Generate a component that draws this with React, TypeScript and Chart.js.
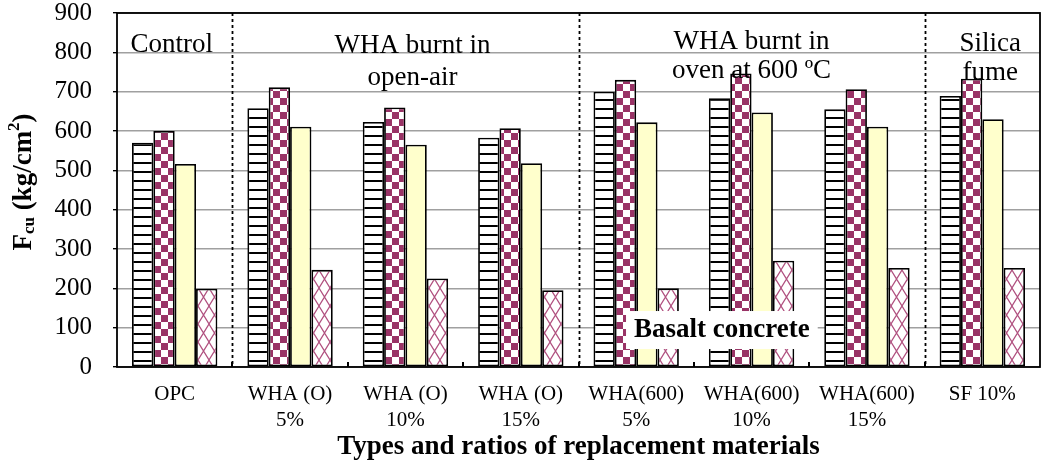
import React, { useEffect, useRef } from "react";
import { Chart, registerables } from "chart.js";

Chart.register(...registerables);

const categories: string[][] = [
  ["OPC"],
  ["WHA (O)", "5%"],
  ["WHA (O)", "10%"],
  ["WHA (O)", "15%"],
  ["WHA(600)", "5%"],
  ["WHA(600)", "10%"],
  ["WHA(600)", "15%"],
  ["SF 10%"],
];

const series1 = [570, 658, 623, 583, 700, 683, 655, 689];
const series2 = [600, 711, 660, 607, 730, 746, 706, 733];
const series3 = [516, 611, 565, 518, 622, 647, 611, 630];
const series4 = [199, 247, 225, 195, 200, 270, 252, 252];

const yTicks = [0, 100, 200, 300, 400, 500, 600, 700, 800, 900];

const groupLabels = [
  { lines: ["Control"], from: 0, to: 0 },
  { lines: ["WHA burnt in", "open-air"], from: 1, to: 3 },
  { lines: ["WHA burnt in", "oven at 600 ºC"], from: 4, to: 6 },
  { lines: ["Silica", "fume"], from: 7, to: 7 },
];
const separators = [0.5, 3.5, 6.5];

const SERIF = "'Liberation Serif', 'Times New Roman', serif";

function makePattern(kind: string): CanvasPattern | string {
  const c = document.createElement("canvas");
  const ctx = c.getContext("2d");
  if (!ctx) return "#fff";
  if (kind === "stripes") {
    c.width = 9; c.height = 9;
    ctx.fillStyle = "#fff"; ctx.fillRect(0, 0, 9, 9);
    ctx.fillStyle = "#000"; ctx.fillRect(0, 0, 9, 2);
  } else if (kind === "checker") {
    c.width = 14; c.height = 14;
    ctx.fillStyle = "#fff"; ctx.fillRect(0, 0, 14, 14);
    ctx.fillStyle = "#993366";
    ctx.fillRect(0, 0, 7, 7);
    ctx.fillRect(7, 7, 7, 7);
  } else {
    c.width = 11; c.height = 18;
    ctx.fillStyle = "#fff"; ctx.fillRect(0, 0, 11, 18);
    ctx.strokeStyle = "#b0507f"; ctx.lineWidth = 1.2;
    ctx.beginPath();
    ctx.moveTo(0, 0); ctx.lineTo(11, 18);
    ctx.moveTo(11, 0); ctx.lineTo(0, 18);
    ctx.stroke();
  }
  return ctx.createPattern(c, "repeat") || "#fff";
}

const overlayPlugin = {
  id: "overlay",
  afterDatasetsDraw(chart: any) {
    const { ctx, chartArea, scales } = chart;
    const x = scales.x;
    const y = scales.y;
    const { left, right, top, bottom } = chartArea;
    const half = (x.getPixelForValue(1) - x.getPixelForValue(0)) / 2;
    ctx.save();
    // dotted separators
    ctx.strokeStyle = "#000";
    ctx.lineWidth = 1.8;
    ctx.setLineDash([3, 3]);
    separators.forEach((s) => {
      const px = Math.round(x.getPixelForValue(Math.floor(s)) + half) + 0.5;
      ctx.beginPath();
      ctx.moveTo(px, top);
      ctx.lineTo(px, bottom);
      ctx.stroke();
    });
    ctx.setLineDash([]);
    // inside tick marks at category boundaries
    ctx.lineWidth = 2;
    for (let i = 0; i < categories.length - 1; i++) {
      const px = Math.round(x.getPixelForValue(i) + half);
      ctx.beginPath();
      ctx.moveTo(px, bottom);
      ctx.lineTo(px, bottom - 5);
      ctx.stroke();
    }
    // frame
    ctx.lineWidth = 1.8;
    ctx.strokeRect(left, top, right - left, bottom - top);
    // group labels
    ctx.fillStyle = "#000";
    ctx.font = `27px ${SERIF}`;
    ctx.textAlign = "center";
    ctx.textBaseline = "middle";
    const lineY = [
      [45],
      [46, 78],
      [42, 71],
      [44, 73],
    ];
    groupLabels.forEach((g, gi) => {
      const cx = (x.getPixelForValue(g.from) + x.getPixelForValue(g.to)) / 2 + (gi === 1 ? 7 : gi === 3 ? 8 : gi === 0 ? -3 : 0);
      g.lines.forEach((ln, li) => {
        ctx.fillText(ln, cx, lineY[gi][li]);
      });
    });
    // Basalt concrete box
    const bx = (x.getPixelForValue(4) + x.getPixelForValue(5)) / 2 + 28;
    const by = y.getPixelForValue(94);
    ctx.font = `bold 27px ${SERIF}`;
    const tw = ctx.measureText("Basalt concrete").width;
    ctx.fillStyle = "#fff";
    ctx.fillRect(bx - tw / 2 - 8, by - 19, tw + 16, 38);
    ctx.fillStyle = "#000";
    ctx.fillText("Basalt concrete", bx, by);
    // x title
    ctx.font = `bold 27px ${SERIF}`;
    ctx.fillText("Types and ratios of replacement materials", (left + right) / 2, 447);
    // y title
    ctx.translate(24, 182);
    ctx.rotate(-Math.PI / 2);
    const big = `bold 27px ${SERIF}`;
    const small = `bold 17px ${SERIF}`;
    const segs = [
      { t: "F", f: big, dy: 0 },
      { t: "cu", f: small, dy: 6 },
      { t: " (kg/cm", f: big, dy: 0 },
      { t: "2", f: small, dy: -9 },
      { t: ")", f: big, dy: 0 },
    ];
    let total = 0;
    segs.forEach((s) => { ctx.font = s.f; total += ctx.measureText(s.t).width; });
    let cur = -total / 2;
    ctx.textAlign = "left";
    segs.forEach((s) => {
      ctx.font = s.f;
      ctx.fillText(s.t, cur, s.dy);
      cur += ctx.measureText(s.t).width;
    });
    ctx.restore();
  },
};

export default function App() {
  const ref = useRef<HTMLCanvasElement | null>(null);
  useEffect(() => {
    document.body.style.margin = "0";
    if (!ref.current) return;
    const border = { borderColor: "#000", borderWidth: 1.8, borderSkipped: false as const };
    const chart = new Chart(ref.current, {
      type: "bar",
      data: {
        labels: categories,
        datasets: [
          { label: "Series 1", data: series1, backgroundColor: makePattern("stripes") as any, ...border },
          { label: "Series 2", data: series2, backgroundColor: makePattern("checker") as any, ...border },
          { label: "Series 3", data: series3, backgroundColor: "#FFFFCC", ...border },
          { label: "Series 4", data: series4, backgroundColor: makePattern("cross") as any, ...border },
        ],
      },
      options: {
        responsive: false,
        animation: false,
        layout: { padding: { left: 0, top: 13, right: 17, bottom: 0 } },
        datasets: { bar: { categoryPercentage: 0.74, barPercentage: 1.0 } },
        plugins: { legend: { display: false }, tooltip: { enabled: false } },
        scales: {
          x: {
            grid: { display: false, drawTicks: false },
            border: { display: false },
            ticks: {
              color: "#000",
              font: { family: SERIF, size: 21, lineHeight: 1.25 },
              padding: 14,
              maxRotation: 0,
              autoSkip: false,
            },
            afterFit: (s: any) => { s.height = 107; s.paddingLeft = 0; s.paddingRight = 0; },
          },
          y: {
            min: 0,
            max: 900,
            afterBuildTicks: (s: any) => { s.ticks = yTicks.map((v) => ({ value: v })); },
            grid: { color: "#a0a0a0", lineWidth: 1.4, tickLength: 4, tickColor: "#000" },
            border: { display: false },
            ticks: {
              color: "#000",
              font: { family: SERIF, size: 25 },
              padding: 21,
            },
            afterFit: (s: any) => { s.width = 117; s.paddingTop = 0; s.paddingBottom = 0; },
          },
        },
      },
      plugins: [overlayPlugin],
    });
    return () => chart.destroy();
  }, []);
  return (
    <div style={{ width: 1057, height: 474 }}>
      <canvas ref={ref} width={1057} height={474} />
    </div>
  );
}
